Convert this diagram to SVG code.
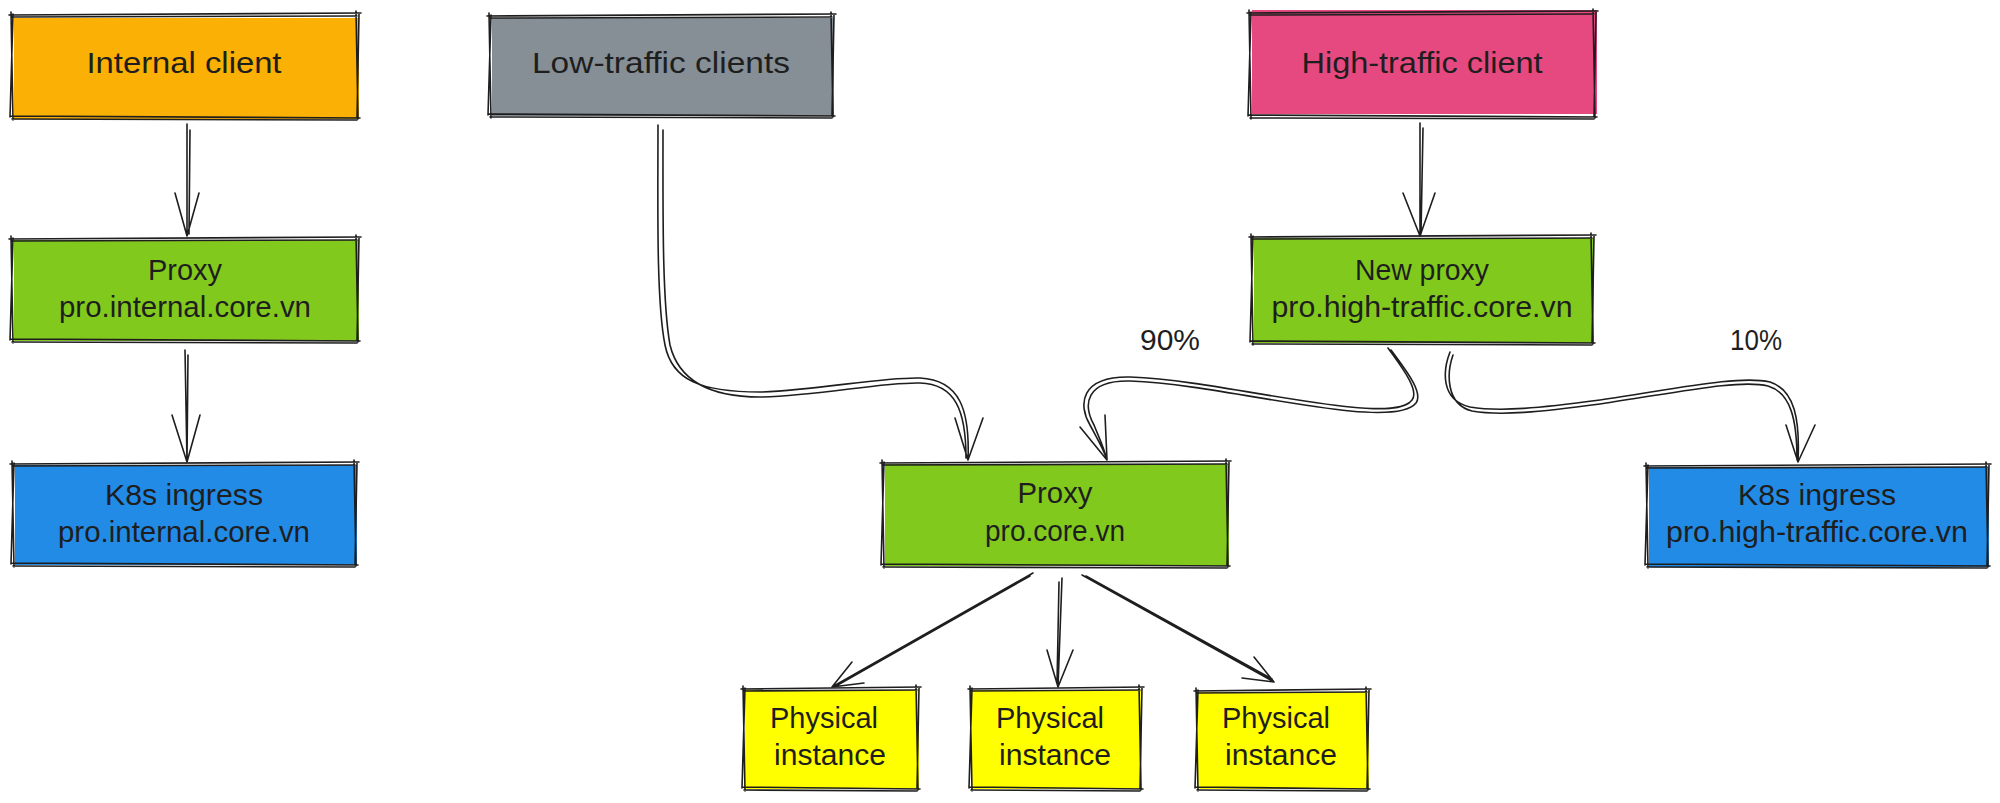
<svg xmlns="http://www.w3.org/2000/svg" width="2000" height="803" viewBox="0 0 2000 803">
<style>
.sk{fill:none;stroke:#1e1e1e;stroke-width:1.6;stroke-linecap:round;stroke-linejoin:round}
.ln{fill:none;stroke:#1e1e1e;stroke-width:1.6;stroke-linecap:round;stroke-linejoin:round}
.t{font-family:"Liberation Sans",Arial,sans-serif;font-size:29px;fill:#1e1e1e;text-anchor:middle}
</style>
<rect width="2000" height="803" fill="#ffffff"/>
<g id="internal-client">
<rect x="14" y="18" width="345" height="101" fill="#fab005"/>
<path class="sk" d="M9,15 L361,13 M12,17 L357,16 M356,11 L358,119 M359,14 L357,118 M360,118 L10,116 M357,120 L12,119 M13,120 L11,12 M10,117 L13,14"/>
<text class="t" x="184" y="73" textLength="195" lengthAdjust="spacingAndGlyphs">Internal client</text>
</g>
<g id="low-traffic-clients">
<rect x="492" y="18" width="342" height="98" fill="#868e96"/>
<path class="sk" d="M487,16 L836,14 M490,18 L832,17 M831,12 L833,117 M834,15 L832,116 M835,116 L488,114 M832,118 L490,117 M491,118 L489,13 M488,115 L491,15"/>
<text class="t" x="661" y="73" textLength="258" lengthAdjust="spacingAndGlyphs">Low-traffic clients</text>
</g>
<g id="high-traffic-client">
<rect x="1252" y="10" width="345" height="104" fill="#e64980"/>
<path class="sk" d="M1247,13 L1598,11 M1250,15 L1594,14 M1593,9 L1595,118 M1596,12 L1594,117 M1597,117 L1248,115 M1594,119 L1250,118 M1251,119 L1249,10 M1248,116 L1251,12"/>
<text class="t" x="1422" y="73" textLength="241" lengthAdjust="spacingAndGlyphs">High-traffic client</text>
</g>
<g id="proxy-internal">
<rect x="14" y="240" width="345" height="101" fill="#82c91e"/>
<path class="sk" d="M9,239 L361,237 M12,241 L357,240 M356,235 L358,342 M359,238 L357,341 M360,341 L10,339 M357,343 L12,342 M13,343 L11,236 M10,340 L13,238"/>
<text class="t" x="185" y="280" textLength="74" lengthAdjust="spacingAndGlyphs">Proxy</text>
<text class="t" x="185" y="317" textLength="252" lengthAdjust="spacingAndGlyphs">pro.internal.core.vn</text>
</g>
<g id="k8s-internal">
<rect x="15" y="465" width="342" height="100" fill="#228be6"/>
<path class="sk" d="M10,464 L359,462 M13,466 L355,465 M354,460 L356,566 M357,463 L355,565 M358,565 L11,563 M355,567 L13,566 M14,567 L12,461 M11,564 L14,463"/>
<text class="t" x="184" y="505" textLength="158" lengthAdjust="spacingAndGlyphs">K8s ingress</text>
<text class="t" x="184" y="542" textLength="252" lengthAdjust="spacingAndGlyphs">pro.internal.core.vn</text>
</g>
<g id="new-proxy">
<rect x="1254" y="238" width="340" height="105" fill="#82c91e"/>
<path class="sk" d="M1249,237 L1596,235 M1252,239 L1592,238 M1591,233 L1593,344 M1594,236 L1592,343 M1595,343 L1250,341 M1592,345 L1252,344 M1253,345 L1251,234 M1250,342 L1253,236"/>
<text class="t" x="1422" y="280" textLength="134" lengthAdjust="spacingAndGlyphs">New proxy</text>
<text class="t" x="1422" y="317" textLength="301" lengthAdjust="spacingAndGlyphs">pro.high-traffic.core.vn</text>
</g>
<g id="proxy-core">
<rect x="885" y="464" width="344" height="102" fill="#82c91e"/>
<path class="sk" d="M880,463 L1231,461 M883,465 L1227,464 M1226,459 L1228,567 M1229,462 L1227,566 M1230,566 L881,564 M1227,568 L883,567 M884,568 L882,460 M881,565 L884,462"/>
<text class="t" x="1055" y="503" textLength="75" lengthAdjust="spacingAndGlyphs">Proxy</text>
<text class="t" x="1055" y="541" textLength="140" lengthAdjust="spacingAndGlyphs">pro.core.vn</text>
</g>
<g id="k8s-high-traffic">
<rect x="1649" y="467" width="340" height="100" fill="#228be6"/>
<path class="sk" d="M1644,466 L1991,464 M1647,468 L1987,467 M1986,462 L1988,567 M1989,465 L1987,566 M1990,566 L1645,564 M1987,568 L1647,567 M1648,568 L1646,463 M1645,565 L1648,465"/>
<text class="t" x="1817" y="505" textLength="158" lengthAdjust="spacingAndGlyphs">K8s ingress</text>
<text class="t" x="1817" y="542" textLength="302" lengthAdjust="spacingAndGlyphs">pro.high-traffic.core.vn</text>
</g>
<g id="physical-1">
<rect x="745" y="690" width="174" height="99" fill="#ffff00"/>
<path class="sk" d="M741,689 L921,687 M744,691 L917,690 M916,685 L918,790 M919,688 L917,789 M920,789 L742,787 M917,791 L744,790 M745,791 L743,686 M742,788 L745,688"/>
<text class="t" x="824" y="728" textLength="108" lengthAdjust="spacingAndGlyphs">Physical</text>
<text class="t" x="830" y="765" textLength="112" lengthAdjust="spacingAndGlyphs">instance</text>
</g>
<g id="physical-2">
<rect x="972" y="690" width="170" height="99" fill="#ffff00"/>
<path class="sk" d="M968,689 L1144,687 M971,691 L1140,690 M1139,685 L1141,790 M1142,688 L1140,789 M1143,789 L969,787 M1140,791 L971,790 M972,791 L970,686 M969,788 L972,688"/>
<text class="t" x="1050" y="728" textLength="108" lengthAdjust="spacingAndGlyphs">Physical</text>
<text class="t" x="1055" y="765" textLength="112" lengthAdjust="spacingAndGlyphs">instance</text>
</g>
<g id="physical-3">
<rect x="1198" y="692" width="171" height="97" fill="#ffff00"/>
<path class="sk" d="M1194,691 L1371,689 M1197,693 L1367,692 M1366,687 L1368,790 M1369,690 L1367,789 M1370,789 L1195,787 M1367,791 L1197,790 M1198,791 L1196,688 M1195,788 L1198,690"/>
<text class="t" x="1276" y="728" textLength="108" lengthAdjust="spacingAndGlyphs">Physical</text>
<text class="t" x="1281" y="765" textLength="112" lengthAdjust="spacingAndGlyphs">instance</text>
</g>
<g id="labels">
<text class="t" x="1170" y="350" textLength="60" lengthAdjust="spacingAndGlyphs">90%</text>
<text class="t" x="1756" y="350" textLength="52" lengthAdjust="spacingAndGlyphs">10%</text>
</g>
<g id="connectors">
<path class="ln" d="M187,124 L187,236 M190,130 L189,234 M175,193 L187,236 L199,193"/>
<path class="ln" d="M185,350 L187,462 M188,355 L187,460 M172,415 L187,462 L200,415"/>
<path class="ln" d="M1420,123 L1420,236 M1423,128 L1421,234 M1403,193 L1420,236 L1435,193"/>
<path class="ln" d="M658,125 C658,200 656,300 665,345 C672,380 700,392 760,392 C820,390 880,377 920,378 C960,380 970,410 968,460 M663,130 C663,210 662,300 670,345 C678,378 705,397 760,397 C820,396 880,382 920,383 C955,384 966,410 966,458 M955,418 L968,460 L983,418"/>
<path class="ln" d="M1388,348 C1400,365 1420,390 1412,400 C1405,410 1380,410 1350,407 C1280,400 1200,380 1130,377 C1080,376 1078,405 1090,425 C1098,440 1104,450 1107,460 M1391,350 C1404,368 1424,392 1416,403 C1408,413 1382,414 1350,411 C1280,404 1200,384 1130,381 C1085,380 1083,405 1094,425 C1100,440 1105,450 1106,458 M1080,427 L1107,460 M1105,415 L1107,460"/>
<path class="ln" d="M1450,352 C1443,370 1440,400 1470,407 C1500,412 1540,408 1600,400 C1680,388 1740,375 1770,382 C1795,390 1800,420 1798,462 M1453,355 C1447,372 1445,404 1472,411 C1500,416 1540,412 1600,404 C1680,392 1740,379 1768,386 C1791,393 1797,420 1797,460 M1786,425 L1798,462 L1815,425"/>
<path class="ln" d="M1033,573 L832,687 M1030,576 L836,686 M864,683 L832,687 L852,662"/>
<path class="ln" d="M1062,578 L1058,687 M1059,582 L1057,684 M1047,650 L1058,687 L1073,650"/>
<path class="ln" d="M1082,575 L1274,682 M1086,576 L1272,679 M1254,657 L1274,682 L1242,678"/>
</g>
</svg>
